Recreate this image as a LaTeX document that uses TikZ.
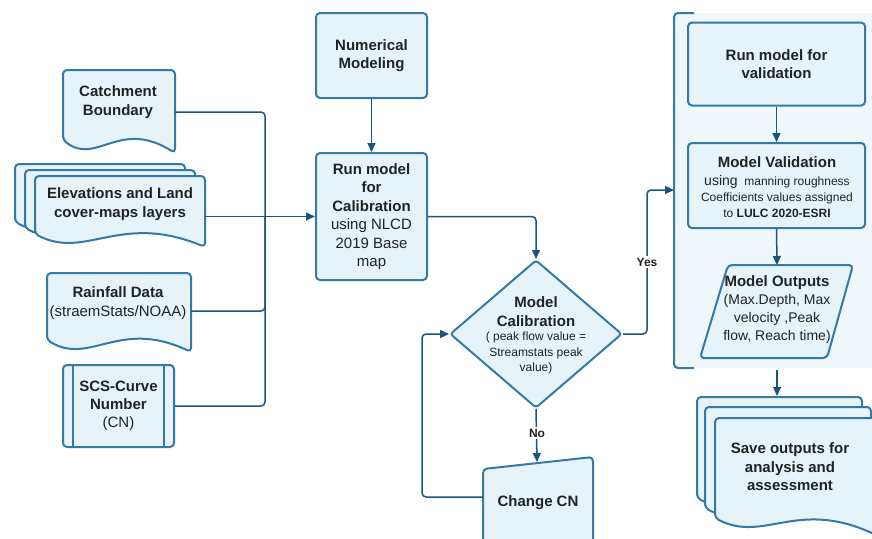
\documentclass[tikz,border=0pt]{standalone}
\usepackage{fontspec}
\setmainfont{Liberation Sans}
\usetikzlibrary{arrows.meta,shapes.geometric}
\definecolor{bord}{HTML}{3479A8}
\definecolor{boxfill}{HTML}{E6F4FA}
\definecolor{contfill}{HTML}{EFF7FB}
\definecolor{linec}{HTML}{1B557F}
\definecolor{txt}{HTML}{222222}
\newcommand\bigf{\fontsize{15}{18.5}\selectfont}
\newcommand\smallf{\fontsize{12}{15.5}\selectfont}
\newcommand\lblf{\fontsize{12}{14}\selectfont\bfseries}
\tikzset{
 shp/.style={draw=bord, fill=boxfill, line width=2pt, rounded corners=4pt},
 boxn/.style={shp, inner sep=0pt, text=txt, align=center, font=\bigf},
 conn/.style={draw=linec, line width=1.5pt, rounded corners=4pt},
 arr/.style={conn, -{Triangle[length=9pt,width=8pt]}},
 tx/.style={text=txt, align=center, font=\bigf, inner sep=0pt},
 stx/.style={text=txt, align=center, font=\smallf, inner sep=0pt},
 lbl/.style={fill=white, text=txt, font=\lblf, inner sep=1.5pt},
}
% document shape: left, top, right, bottom-left y, bottom-right y
\newcommand\docshape[5]{\path[shp] (#1,#4) -- (#1,#2) -- (#3,#2) -- (#3,#5) .. controls ({#3-0.5*(#3-#1)},{#4-22}) and ({#1+0.3*(#3-#1)},{#4+26}) .. (#1,#4) -- cycle;}
\begin{document}
\begin{tikzpicture}[x=1pt,y=-1pt]
\useasboundingbox (0,0) rectangle (872,538);
\clip (0,0) rectangle (872,538);

% ---------- left inputs ----------
\docshape{63}{70}{175}{140}{153}
\node[tx] (cbt) at (118,102) {\textbf{Catchment}\\\textbf{Boundary}};
\coordinate (cbE) at (175,112);

\docshape{15}{164}{185}{222}{235}
\docshape{25}{170}{195}{228}{241}
\docshape{35}{176}{205}{234}{247}
\node[tx] (elt) at (120,204) {\textbf{Elevations and Land}\\\textbf{cover-maps layers}};
\coordinate (elE) at (205,216.5);

\docshape{47}{273}{191}{340}{352}
\node[tx, font=\fontsize{15}{19}\selectfont] (rft) at (118,303.5) {\textbf{Rainfall Data}\\(straemStats/NOAA)};
\coordinate (rfE) at (191,311);

\node[boxn, minimum width=111pt, minimum height=82pt, font=\fontsize{15}{18}\selectfont] (sc) at (118.5,406) {\textbf{SCS-Curve}\\\textbf{Number}\\(CN)};
\draw[bord, line width=2pt] ([xshift=11pt]sc.north west) -- ([xshift=11pt]sc.south west);
\draw[bord, line width=2pt] ([xshift=-11pt]sc.north east) -- ([xshift=-11pt]sc.south east);
\coordinate (scE) at (sc.east);

\coordinate (j1) at (265,216.5);
\draw[conn] (cbE) -| (j1);
\draw[conn] (rfE) -| (j1);
\draw[conn] (sc.east) -| (j1);

% ---------- middle column ----------
\node[boxn, minimum width=111pt, minimum height=85pt] (nm) at (371.5,55.5) {\textbf{Numerical}\\\textbf{Modeling}};
\node[boxn, minimum width=111pt, minimum height=127pt] (rc) at (371.5,216.5) {\textbf{Run model}\\\textbf{for}\\\textbf{Calibration}\\using NLCD\\2019 Base\\map};
\draw[arr] (nm.south) -- (rc.north);
\draw[arr] (elE) -- (rc.west);

\node[shp, shape=diamond, minimum width=172pt, minimum height=148pt, inner sep=0pt, rounded corners=3pt] (dm) at (536,334) {};
\node[tx] (dmt) at (536,311.5) {\textbf{Model}\\\textbf{Calibration}};
\node[stx] (dms) at (536,353) {( peak flow value =\\Streamstats peak\\value)};
\draw[arr] (rc.east) -| (dm.north);

\path[shp] (483,560) -- (483,469) -- (593,457) -- (593,560) -- cycle;
\node[tx] (cnt) at (538,503) {\textbf{Change CN}};
\coordinate (cnN) at (537,462);
\coordinate (cnW) at (483,497);
\coordinate (lp) at (422,497);
\draw[arr] (dm.south) -- (cnN);
\node[lbl] (nol) at (537,433) {No};
\draw[arr] (cnW) -- (lp) |- (dm.west);

% ---------- right container ----------
\path[fill=contfill] (674,13) rectangle (880,368);
\draw[draw=bord, line width=2pt, rounded corners=4pt] (694,13) -- (674,13) -- (674,368) -- (694,368);
\coordinate (contW) at (674,190);
\coordinate (yc) at (647,190);
\draw[arr] (dm.east) -| (yc) -- (contW);
\node[lbl] (yesl) at (647,262) {Yes};

\node[boxn, minimum width=177pt, minimum height=83pt] (rv) at (776.5,64) {\textbf{Run model for}\\\textbf{validation}};
\node[shp, minimum width=177pt, minimum height=85pt, inner sep=0pt] (mv) at (776.5,185.5) {};
\node[tx] (mvt) at (777,162) {\textbf{Model Validation}};
\node[stx, font=\fontsize{12}{16}\selectfont] (mvs) at (777,196) {{\fontsize{14}{16}\selectfont using}\ \ manning roughness\\Coefficients values assigned\\to \textbf{LULC 2020-ESRI}};
\draw[arr] (rv.south) -- (mv.north);

\path[shp] (728,265) -- (853,265) -- (827,358) -- (700,358) -- cycle;
\coordinate (moN) at (777,265);
\node[tx, font=\fontsize{14}{18.3}\selectfont] (mot) at (777,309.5) {{\fontsize{15}{18.3}\selectfont\bfseries Model Outputs}\\(Max.Depth, Max\\velocity ,Peak\\flow, Reach time)};
\draw[arr] (mv.south) -- (moN);

% ---------- save outputs ----------
\docshape{697}{397}{862}{498}{515}
\docshape{705}{407}{871}{508}{525}
\docshape{715}{418}{882}{518}{538}
\node[tx] (svt) at (790,467) {\textbf{Save outputs for}\\\textbf{analysis and}\\\textbf{assessment}};
\coordinate (contS) at (777,370);
\coordinate (svN) at (777,396);
\draw[arr] (contS) -- (svN);
\end{tikzpicture}
\end{document}
